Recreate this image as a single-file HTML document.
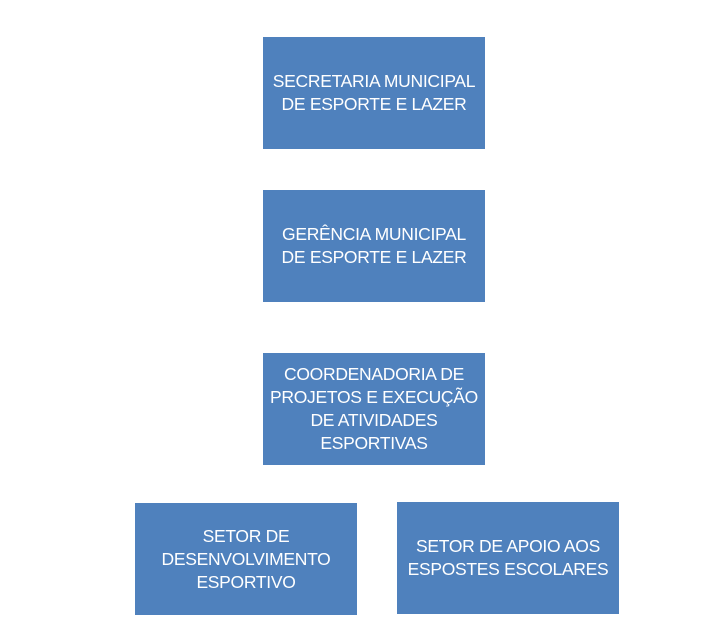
<!DOCTYPE html>
<html><head><meta charset="utf-8"><style>
body{margin:0;width:709px;height:641px;background:#fff;position:relative;overflow:hidden}
.b{position:absolute;width:222px;height:112px;background:#4f81bd;color:#fff;display:flex;align-items:center;justify-content:center;text-align:center;font-family:"Liberation Sans",sans-serif;font-size:17.5px;line-height:23px;letter-spacing:-0.3px}
</style></head><body>
<div class="b" style="left:263px;top:37px">SECRETARIA MUNICIPAL<br>DE ESPORTE E LAZER</div>
<div class="b" style="left:263px;top:190px">GERÊNCIA MUNICIPAL<br>DE ESPORTE E LAZER</div>
<div class="b" style="left:263px;top:353px">COORDENADORIA DE<br>PROJETOS E EXECUÇÃO<br>DE ATIVIDADES<br>ESPORTIVAS</div>
<div class="b" style="left:135px;top:503px">SETOR DE<br>DESENVOLVIMENTO<br>ESPORTIVO</div>
<div class="b" style="left:397px;top:502px">SETOR DE APOIO AOS<br>ESPOSTES ESCOLARES</div>
</body></html>
